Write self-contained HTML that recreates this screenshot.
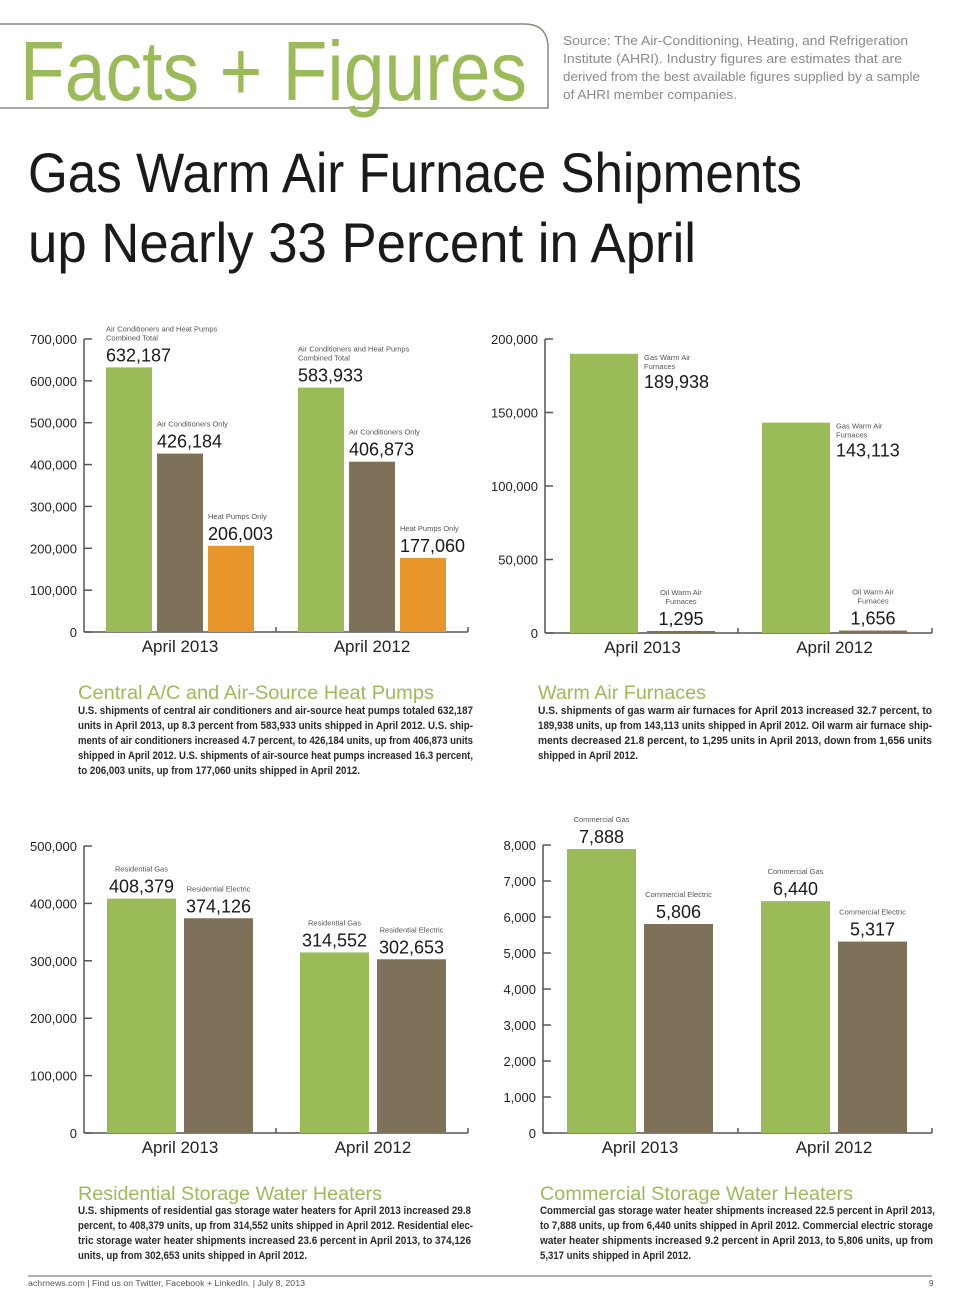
<!DOCTYPE html>
<html><head><meta charset="utf-8"><style>
html,body{margin:0;padding:0;background:#fff;}
svg{display:block;font-family:"Liberation Sans",sans-serif;}
</style></head><body>
<svg id="page" width="960" height="1303" viewBox="0 0 960 1303" xmlns="http://www.w3.org/2000/svg">
<g>
<path d="M0 24 H524 Q548 24 548 48 V108 H0" fill="none" stroke="#8a8a80" stroke-width="1.5"/>
<text x="20" y="100" font-size="84" fill="#9bbb59" textLength="507" lengthAdjust="spacingAndGlyphs">Facts + Figures</text>
<g font-size="13" fill="#8a8a8a">
<text x="563" y="45" textLength="345" lengthAdjust="spacingAndGlyphs">Source: The Air-Conditioning, Heating, and Refrigeration</text>
<text x="563" y="63" textLength="339" lengthAdjust="spacingAndGlyphs">Institute (AHRI). Industry figures are estimates that are</text>
<text x="563" y="81" textLength="357" lengthAdjust="spacingAndGlyphs">derived from the best available figures supplied by a sample</text>
<text x="563" y="99" textLength="174" lengthAdjust="spacingAndGlyphs">of AHRI member companies.</text>
</g>
</g>
<g fill="#1a1a1a" font-size="56">
<text x="28" y="192" textLength="774" lengthAdjust="spacingAndGlyphs">Gas Warm Air Furnace Shipments</text>
<text x="28" y="262" textLength="668" lengthAdjust="spacingAndGlyphs">up Nearly 33 Percent in April</text>
</g>
<g id="charts"></g>
<g>
<text x="78" y="699" font-size="19" fill="#9bbb59" textLength="356" lengthAdjust="spacingAndGlyphs">Central A/C and Air-Source Heat Pumps</text>
<g font-size="11" font-weight="bold" fill="#2a2a2a">
<text x="78" y="714" textLength="395" lengthAdjust="spacingAndGlyphs">U.S. shipments of central air conditioners and air-source heat pumps totaled 632,187</text>
<text x="78" y="729" textLength="395" lengthAdjust="spacingAndGlyphs">units in April 2013, up 8.3 percent from 583,933 units shipped in April 2012. U.S. ship-</text>
<text x="78" y="744" textLength="395" lengthAdjust="spacingAndGlyphs">ments of air conditioners increased 4.7 percent, to 426,184 units, up from 406,873 units</text>
<text x="78" y="759" textLength="395" lengthAdjust="spacingAndGlyphs">shipped in April 2012. U.S. shipments of air-source heat pumps increased 16.3 percent,</text>
<text x="78" y="774" textLength="282" lengthAdjust="spacingAndGlyphs">to 206,003 units, up from 177,060 units shipped in April 2012.</text>
</g>
<text x="538" y="699" font-size="19" fill="#9bbb59" textLength="168" lengthAdjust="spacingAndGlyphs">Warm Air Furnaces</text>
<g font-size="11" font-weight="bold" fill="#2a2a2a">
<text x="538" y="714" textLength="394" lengthAdjust="spacingAndGlyphs">U.S. shipments of gas warm air furnaces for April 2013 increased 32.7 percent, to</text>
<text x="538" y="729" textLength="394" lengthAdjust="spacingAndGlyphs">189,938 units, up from 143,113 units shipped in April 2012. Oil warm air furnace ship-</text>
<text x="538" y="744" textLength="394" lengthAdjust="spacingAndGlyphs">ments decreased 21.8 percent, to 1,295 units in April 2013, down from 1,656 units</text>
<text x="538" y="759" textLength="100" lengthAdjust="spacingAndGlyphs">shipped in April 2012.</text>
</g>
<text x="78" y="1200" font-size="19" fill="#9bbb59" textLength="304" lengthAdjust="spacingAndGlyphs">Residential Storage Water Heaters</text>
<g font-size="11" font-weight="bold" fill="#2a2a2a">
<text x="78" y="1214" textLength="393" lengthAdjust="spacingAndGlyphs">U.S. shipments of residential gas storage water heaters for April 2013 increased 29.8</text>
<text x="78" y="1229" textLength="395" lengthAdjust="spacingAndGlyphs">percent, to 408,379 units, up from 314,552 units shipped in April 2012. Residential elec-</text>
<text x="78" y="1244" textLength="393" lengthAdjust="spacingAndGlyphs">tric storage water heater shipments increased 23.6 percent in April 2013, to 374,126</text>
<text x="78" y="1259" textLength="229" lengthAdjust="spacingAndGlyphs">units, up from 302,653 units shipped in April 2012.</text>
</g>
<text x="540" y="1200" font-size="19" fill="#9bbb59" textLength="313" lengthAdjust="spacingAndGlyphs">Commercial Storage Water Heaters</text>
<g font-size="11" font-weight="bold" fill="#2a2a2a">
<text x="540" y="1214" textLength="395" lengthAdjust="spacingAndGlyphs">Commercial gas storage water heater shipments increased 22.5 percent in April 2013,</text>
<text x="540" y="1229" textLength="393" lengthAdjust="spacingAndGlyphs">to 7,888 units, up from 6,440 units shipped in April 2012. Commercial electric storage</text>
<text x="540" y="1244" textLength="393" lengthAdjust="spacingAndGlyphs">water heater shipments increased 9.2 percent in April 2013, to 5,806 units, up from</text>
<text x="540" y="1259" textLength="151" lengthAdjust="spacingAndGlyphs">5,317 units shipped in April 2012.</text>
</g>
</g>
<g>
<line x1="28" y1="1276" x2="932" y2="1276" stroke="#999" stroke-width="1.5"/>
<text x="28" y="1286" font-size="8" fill="#555" textLength="277" lengthAdjust="spacingAndGlyphs">achrnews.com  |  Find us on Twitter, Facebook + LinkedIn.  |  July 8, 2013</text>
<text x="929" y="1286" font-size="8" fill="#555">9</text>
</g>
</svg>
<script>
// ---- Chart data ----
const categories = ["April 2013", "April 2012"];
// Chart 1: central A/C and heat pumps
const acCombined = [632187, 583933];
const acOnly = [426184, 406873];
const hpOnly = [206003, 177060];
const acTicks = [0, 100000, 200000, 300000, 400000, 500000, 600000, 700000];
const acSeriesLabels = [["Air Conditioners and Heat Pumps", "Combined Total"], ["Air Conditioners Only"], ["Heat Pumps Only"]];
// Chart 2: warm air furnaces
const gasFurnace = [189938, 143113];
const oilFurnace = [1295, 1656];
const furnaceTicks = [0, 50000, 100000, 150000, 200000];
const furnaceSeriesLabels = [["Gas Warm Air", "Furnaces"], ["Oil Warm Air", "Furnaces"]];
// Chart 3: residential water heaters
const resGas = [408379, 314552];
const resElectric = [374126, 302653];
const resTicks = [0, 100000, 200000, 300000, 400000, 500000];
const resSeriesLabels = [["Residential Gas"], ["Residential Electric"]];
// Chart 4: commercial water heaters
const comGas = [7888, 6440];
const comElectric = [5806, 5317];
const comTicks = [0, 1000, 2000, 3000, 4000, 5000, 6000, 7000, 8000];
const comSeriesLabels = [["Commercial Gas"], ["Commercial Electric"]];

const COLORS = ["#9bbb59", "#7d7259", "#e8952a"];
const NS = "http://www.w3.org/2000/svg";
const root = document.getElementById("charts");
function fmt(v){ return v.toLocaleString("en-US"); }
function mk(tag, attrs, parent, txt){
  const e = document.createElementNS(NS, tag);
  for (const k in attrs) e.setAttribute(k, attrs[k]);
  if (txt !== undefined) e.textContent = txt;
  parent.appendChild(e);
  return e;
}

function drawChart(cfg, name){
  const g = mk("g", {}, root);
  
  
  const maxT = cfg.ticks[cfg.ticks.length - 1];
  const y = v => cfg.y0 - (v / maxT) * (cfg.y0 - cfg.yTop);
  // axis
  const ax = mk("g", {stroke: "#555", "stroke-width": 1.5}, g);
  
  
  mk("line", {x1: cfg.x0, y1: cfg.yTop, x2: cfg.x0, y2: cfg.y0}, ax);
  mk("line", {x1: cfg.x0, y1: cfg.y0, x2: cfg.xEnd, y2: cfg.y0}, ax);
  mk("line", {x1: cfg.mid, y1: cfg.y0 - 5, x2: cfg.mid, y2: cfg.y0}, ax);
  mk("line", {x1: cfg.xEnd, y1: cfg.y0 - 5, x2: cfg.xEnd, y2: cfg.y0}, ax);
  cfg.ticks.forEach(t => {
    mk("line", {x1: cfg.x0, y1: y(t), x2: cfg.x0 + 8, y2: y(t)}, ax);
    const tl = mk("text", {x: cfg.x0 - 7, y: y(t) + 5, "font-size": 13, fill: "#222", stroke: "none", "text-anchor": "end"}, g, fmt(t));
    
    
  });
  categories.forEach((c, ci) => {
    const gx = cfg.groups[ci];
    const n = cfg.series.length;
    const cx = gx + ((n - 1) * cfg.step + cfg.bw) / 2;
    const cl = mk("text", {x: cfg.catX ? cfg.catX[ci] : cx, y: cfg.y0 + 20, "font-size": 17, fill: "#222", "text-anchor": "middle"}, g, c);
    
    
    cfg.series.forEach((s, si) => {
      const v = s[ci];
      const bx = gx + si * cfg.step;
      const top = y(v);
      const h = Math.max(cfg.y0 - top, 2);
      const r = mk("rect", {x: bx, y: cfg.y0 - h, width: cfg.bw, height: h, fill: COLORS[si]}, g);
      
      
      const mode = cfg.labelMode[si];
      const lbl = cfg.labels[si];
      let lx, anchor, valY, firstY;
      if (mode === "right") {
        lx = bx + cfg.bw + 6; anchor = "start";
        firstY = top + 6; valY = top + 34;
      } else {
        lx = mode === "left" ? bx : bx + cfg.bw / 2;
        anchor = mode === "left" ? "start" : "middle";
        valY = top - 6;
        firstY = valY - 21 - (lbl.length - 1) * 9;
      }
      lbl.forEach((line, li) => {
        const t = mk("text", {x: lx, y: firstY + li * 9, "font-size": 7.5, fill: "#555", "text-anchor": anchor}, g, line);
        
        
      });
      const vt = mk("text", {x: lx, y: valY, "font-size": 18, fill: "#1a1a1a", "text-anchor": anchor}, g, fmt(v));
      
      
    });
  });
}

drawChart({x0: 84, y0: 632, yTop: 339, xEnd: 468, mid: 276, ticks: acTicks,
  groups: [106, 298], bw: 46, step: 51, series: [acCombined, acOnly, hpOnly],
  labels: acSeriesLabels, labelMode: ["left", "left", "left"]}, "central-ac-chart");
drawChart({x0: 545, y0: 633, yTop: 339, xEnd: 932, mid: 738, ticks: furnaceTicks,
  groups: [570, 762], bw: 68, step: 77, series: [gasFurnace, oilFurnace],
  labels: furnaceSeriesLabels, labelMode: ["right", "center"]}, "furnace-chart");
drawChart({x0: 84, y0: 1133, yTop: 846, xEnd: 468, mid: 276, ticks: resTicks,
  groups: [107, 300], bw: 69, step: 77, series: [resGas, resElectric],
  labels: resSeriesLabels, labelMode: ["center", "center"]}, "residential-water-heater-chart");
drawChart({x0: 543, y0: 1133, yTop: 845, xEnd: 932, mid: 738, ticks: comTicks,
  groups: [567, 761], bw: 69, step: 77, series: [comGas, comElectric],
  labels: comSeriesLabels, labelMode: ["center", "center"]}, "commercial-water-heater-chart");
</script>
</body></html>
